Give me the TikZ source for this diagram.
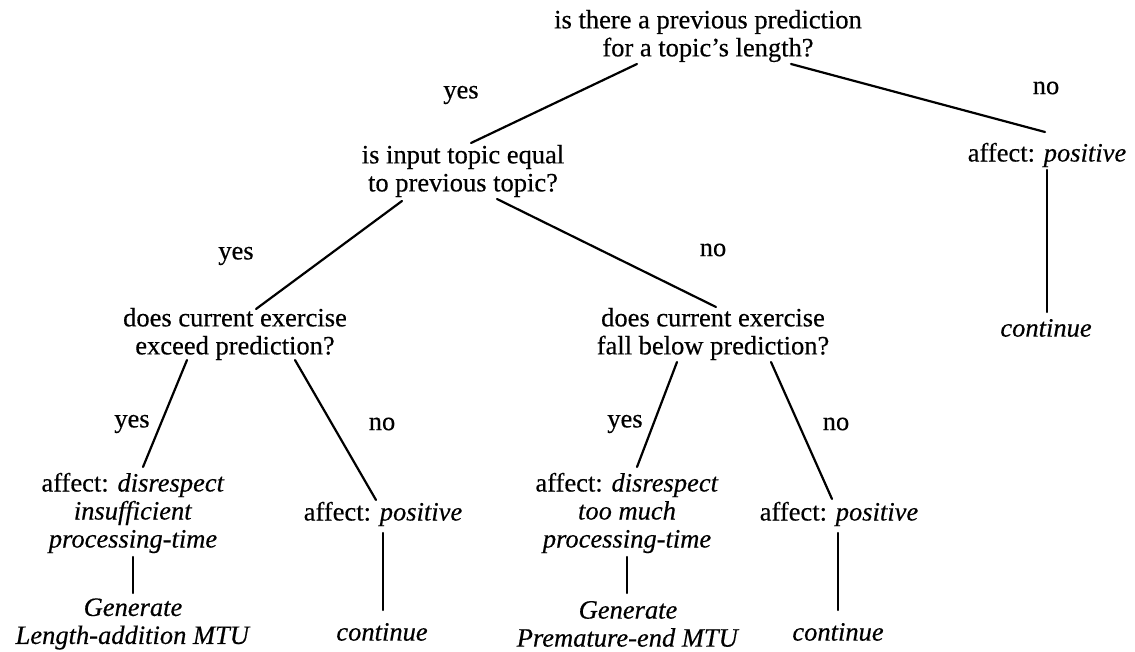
\documentclass[tikz,border=0pt]{standalone}
\usepackage{fontspec}
\setmainfont{Liberation Serif}[FakeBold=0.4]
\begin{document}
\begin{tikzpicture}[x=0.5pt,y=-0.5pt,
  txt/.style={font=\fontsize{13.25pt}{14pt}\selectfont, align=center, inner sep=0pt},
  edge/.style={line width=1.1pt, line cap=round}]
\useasboundingbox (0,0) rectangle (1135,652);

% decision questions
\node[txt] (root) at (708,36) {is there a previous prediction\\for a topic's length?};
\node[txt] (q2)   at (463,171) {is input topic equal\\to previous topic?};
\node[txt] (q3l)  at (235,334) {does current exercise\\exceed prediction?};
\node[txt] (q3r)  at (713,334) {does current exercise\\fall below prediction?};

% outcomes
\node[txt] (aff0) at (1047,155) {affect: \textit{positive}};
\node[txt] (cont0) at (1046,328) {\textit{continue}};
\node[txt] (affl1) at (133,513) {affect: \textit{disrespect}\\\textit{insufficient}\\\textit{processing-time}};
\node[txt] (affl2) at (383,514) {affect: \textit{positive}};
\node[txt] (affr1) at (627,513) {affect: \textit{disrespect}\\\textit{too much}\\\textit{processing-time}};
\node[txt] (affr2) at (839,514) {affect: \textit{positive}};
\node[txt] (genl) at (133,624) {\textit{Generate}\\\textit{Length-addition MTU}};
\node[txt] (contl) at (382,632) {\textit{continue}};
\node[txt] (genr) at (628,624) {\textit{Generate}\\\textit{Premature-end MTU}};
\node[txt] (contr) at (838,632) {\textit{continue}};

% branch labels
\node[txt] (y1) at (461,95) {yes};
\node[txt] (n1) at (1046,88) {no};
\node[txt] (y2) at (236,256) {yes};
\node[txt] (n2) at (713,250) {no};
\node[txt] (y3l) at (132,424) {yes};
\node[txt] (n3l) at (382,424) {no};
\node[txt] (y3r) at (625,424) {yes};
\node[txt] (n3r) at (836,424) {no};

% connectors
\draw[edge] ([shift={(-71,28)}]root.center) -- ([shift={(8,-28)}]q2.center);
\draw[edge] ([shift={(83,28)}]root.center) -- ([shift={(-2,-23)}]aff0.center);
\draw[edge] ([shift={(0,15)}]aff0.center) -- ([shift={(1,-16)}]cont0.center);
\draw[edge] ([shift={(-61,30)}]q2.center) -- ([shift={(21,-25)}]q3l.center);
\draw[edge] ([shift={(34,28)}]q2.center) -- ([shift={(3,-27)}]q3r.center);
\draw[edge] ([shift={(-48,26)}]q3l.center) -- ([shift={(10,-46)}]affl1.center);
\draw[edge] ([shift={(60,26)}]q3l.center) -- ([shift={(-7,-14)}]affl2.center);
\draw[edge] ([shift={(0,44)}]affl1.center) -- ([shift={(0,-31)}]genl.center);
\draw[edge] ([shift={(0,19)}]affl2.center) -- ([shift={(1,-22)}]contl.center);
\draw[edge] ([shift={(-36,28)}]q3r.center) -- ([shift={(10,-46)}]affr1.center);
\draw[edge] ([shift={(58,28)}]q3r.center) -- ([shift={(-7,-15)}]affr2.center);
\draw[edge] ([shift={(0,44)}]affr1.center) -- ([shift={(-1,-31)}]genr.center);
\draw[edge] ([shift={(-1,19)}]affr2.center) -- ([shift={(0,-22)}]contr.center);
\end{tikzpicture}
\end{document}
